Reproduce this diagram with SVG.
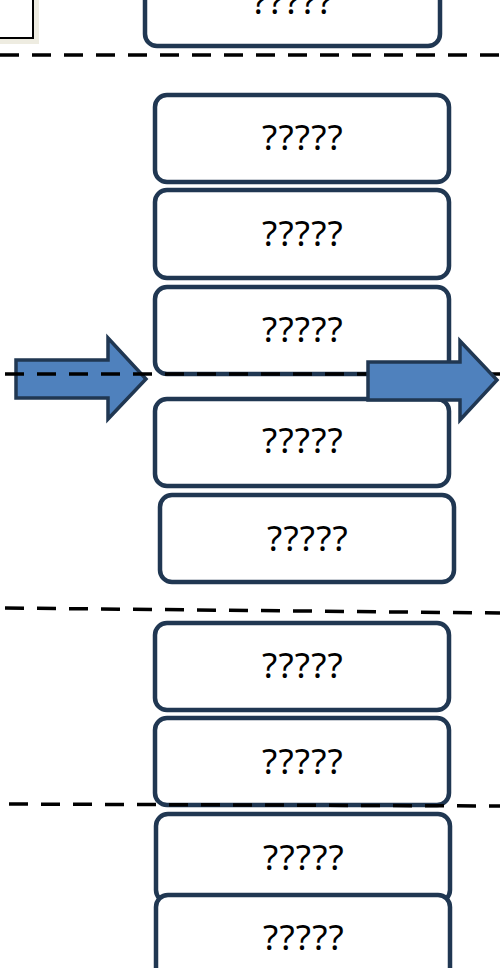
<svg xmlns="http://www.w3.org/2000/svg" width="500" height="968" viewBox="0 0 500 968">
<style>
.box{fill:#fff;stroke:#203752;stroke-width:4.5}
.lbl{font-family:"Noto Sans",sans-serif;font-size:35px;letter-spacing:1.2px;fill:#000;text-anchor:middle}
.dash{stroke:#000;stroke-width:3.5;stroke-dasharray:19 13;fill:none}
.arr{fill:#4f81bd;stroke:#203752;stroke-width:3.5;stroke-linejoin:miter}
</style>
<rect width="500" height="968" fill="#fff"/>
<g id="corner">
<rect x="-5" y="-5" width="44" height="49" fill="#eeece1"/>
<rect x="-5" y="-5" width="38" height="43" fill="#fff" stroke="#000" stroke-width="2"/>
</g>
<g id="n0"><rect class="box" x="145" y="-20" width="295" height="66" rx="12"/><text class="lbl" x="293" y="14">?????</text></g>
<g id="n1"><rect class="box" x="155" y="95" width="294" height="87" rx="12"/><text class="lbl" x="303" y="150">?????</text></g>
<g id="n2"><rect class="box" x="155" y="190" width="294" height="88" rx="12"/><text class="lbl" x="303" y="246">?????</text></g>
<g id="n3"><rect class="box" x="155" y="287" width="294" height="87" rx="12"/><text class="lbl" x="303" y="342">?????</text></g>
<g id="n4"><rect class="box" x="155" y="399" width="294" height="87" rx="12"/><text class="lbl" x="303" y="453">?????</text></g>
<g id="n5"><rect class="box" x="160" y="495" width="294" height="87" rx="12"/><text class="lbl" x="308" y="551">?????</text></g>
<g id="n6"><rect class="box" x="155" y="623" width="294" height="87" rx="12"/><text class="lbl" x="303" y="678">?????</text></g>
<g id="n7"><rect class="box" x="155" y="718" width="294" height="87" rx="12"/><text class="lbl" x="303" y="774">?????</text></g>
<g id="n8"><rect class="box" x="156" y="814" width="294" height="88" rx="12"/><text class="lbl" x="304" y="870">?????</text></g>
<g id="n9"><rect class="box" x="156" y="895" width="294" height="100" rx="12"/><text class="lbl" x="304" y="950">?????</text></g>
<g id="connectors">
<polygon class="arr" points="16,360 108,360 108,338 146,379 108,419 108,398 16,398"/>
<line class="dash" x1="0" y1="55" x2="500" y2="55"/>
<line class="dash" x1="5" y1="374" x2="500" y2="374"/>
<line class="dash" x1="5" y1="608" x2="500" y2="613"/>
<line class="dash" x1="9" y1="804" x2="500" y2="806"/>
<polygon class="arr" points="368,362 460,362 460,341 497,380 460,420 460,400 368,400"/>
</g>
</svg>
